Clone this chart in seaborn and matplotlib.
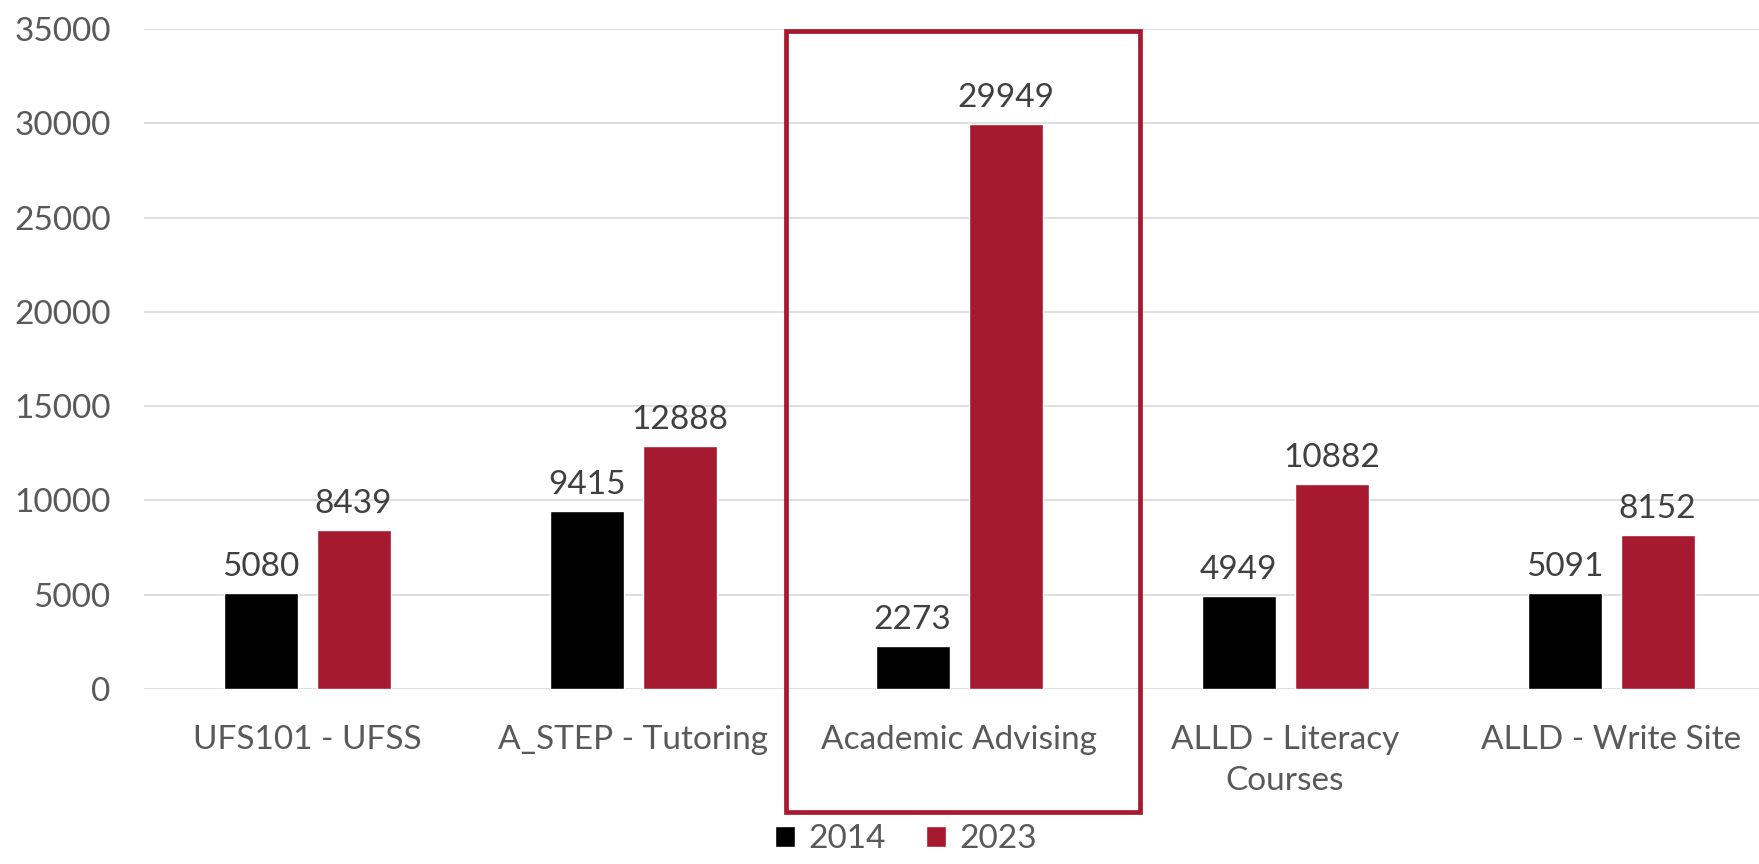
import pandas as pd
import seaborn as sns
import matplotlib.pyplot as plt
from matplotlib.patches import Rectangle
from matplotlib.transforms import blended_transform_factory

categories = ['UFS101 - UFSS', 'A_STEP - Tutoring', 'Academic Advising',
              'ALLD - Literacy\nCourses', 'ALLD - Write Site']
values_2014 = [5080, 9415, 2273, 4949, 5091]
values_2023 = [8439, 12888, 29949, 10882, 8152]
years = ['2014', '2023']
y_ticks = [0, 5000, 10000, 15000, 20000, 25000, 30000, 35000]

RED = '#A6192E'

df = pd.DataFrame({
    'category': categories * 2,
    'year': [years[0]] * 5 + [years[1]] * 5,
    'value': values_2014 + values_2023,
})

sns.set_style('white')
plt.rcParams['font.family'] = ['Lato', 'DejaVu Sans']

fig = plt.figure(figsize=(17.59, 8.64), dpi=100)
ax = fig.add_axes([0.0819, 0.2025, 0.9267, 0.7639])

sns.barplot(data=df, x='category', y='value', hue='year', order=categories,
            palette=['#000000', RED], width=0.571, gap=0.205, ax=ax,
            saturation=1, legend=True)

for c in ax.containers:
    ax.bar_label(c, fmt='%d', padding=8, fontsize=24, color='#404040')

ax.set_ylim(0, 35000)
ax.set_yticks(y_ticks)
ax.set_xlim(-0.5, len(categories) - 0.5)
ax.grid(axis='y', color='#D9D9D9', linewidth=1.2)
ax.set_axisbelow(True)
for s in ax.spines.values():
    s.set_visible(False)
ax.tick_params(axis='both', length=0, labelsize=24, labelcolor='#595959')
ax.tick_params(axis='x', pad=26)
ax.tick_params(axis='y', pad=24)
for lab in ax.get_xticklabels():
    lab.set_linespacing(1.45)
ax.set_xlabel('')
ax.set_ylabel('')

# highlight box round the third category
trans = blended_transform_factory(ax.transData, fig.transFigure)
box = Rectangle((2 - 0.53, 1 - 812 / 864), 1.084, (812 - 31) / 864,
                transform=trans, fill=False, edgecolor=RED, linewidth=3.4,
                clip_on=False)
ax.add_patch(box)

handles, labels = ax.get_legend_handles_labels()
ax.legend(handles, labels, loc='lower center', bbox_to_anchor=(0.515, -0.008),
          bbox_transform=fig.transFigure, ncol=2, frameon=False, fontsize=24,
          labelcolor='#595959', handlelength=0.6, handleheight=0.6,
          handletextpad=0.4, columnspacing=1.2, borderpad=0)

plt.savefig('out.png', dpi=100)
